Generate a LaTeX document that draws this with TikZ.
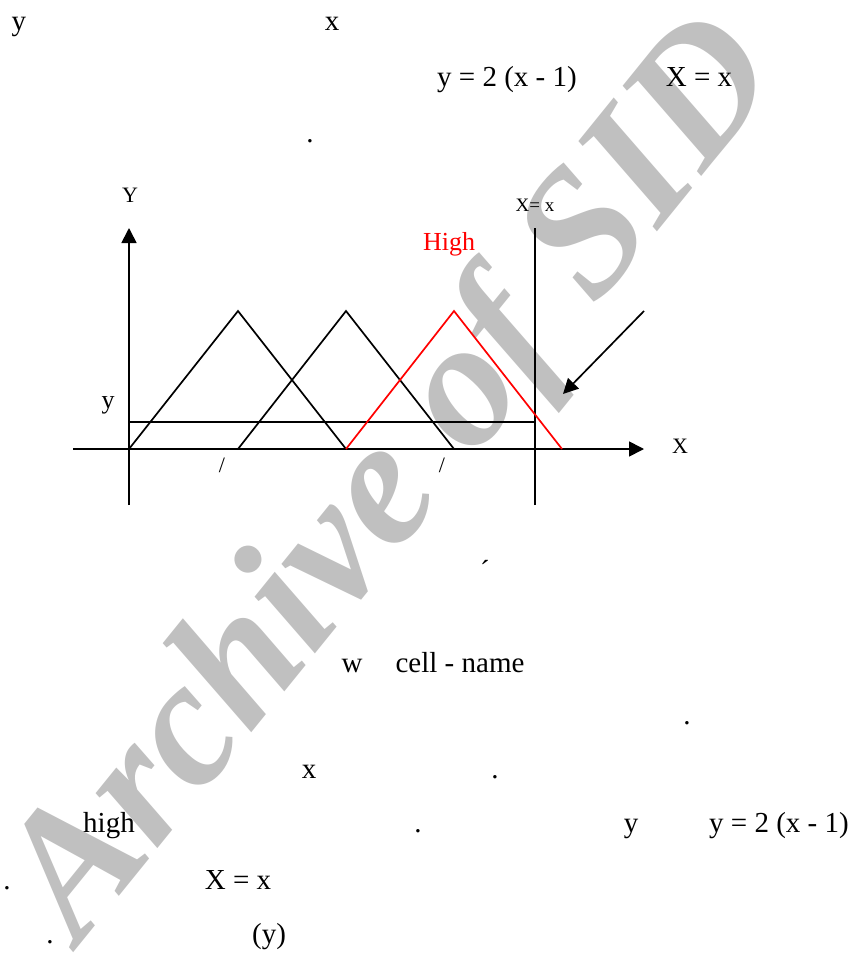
\documentclass[tikz,border=0pt]{standalone}
\usepackage{fontspec}
\setmainfont{Liberation Serif}
\usetikzlibrary{arrows.meta}
\definecolor{wm}{RGB}{192,192,192}
\definecolor{hired}{RGB}{255,0,0}
\begin{document}
\begin{tikzpicture}[x=1pt,y=-1pt,
  body/.style={font=\fontsize{29}{29}\selectfont, anchor=base, inner sep=0pt},
  lab/.style={font=\fontsize{22}{22}\selectfont, anchor=base, inner sep=0pt},
  ln/.style={line width=1.7pt},
  tip/.style={-{Triangle[length=15pt,width=15pt]}},
]
\useasboundingbox (0,0) rectangle (857,960);
% watermark
\node[font=\fontsize{180}{180}\selectfont\bfseries\itshape, text=wm, rotate=51, inner sep=0pt] (wmk) at (398,482) {Archive of SID};

% top text
\node[body] (t1) at (19,31) {y};
\node[body] (t2) at (332,31) {x};
\node[body] (t3) at (507,87) {y = 2 (x - 1)};
\node[body] (t4) at (699,87) {X = x};
\node[body] (t5) at (310,143) {.};

% diagram coordinates
\coordinate (Ybot) at (129,505);
\coordinate (Ytop) at (129,228);
\coordinate (Xl) at (73,449);
\coordinate (Xr) at (644,449);
\coordinate (Vt) at (535,228);
\coordinate (Vb) at (535,505);
\coordinate (Hl) at (129,422);
\coordinate (Hr) at (535,422);
\coordinate (a1) at (129,449);
\coordinate (p1) at (238,311);
\coordinate (b1) at (346,449);
\coordinate (a2) at (238,449);
\coordinate (p2) at (346,311);
\coordinate (b2) at (454,449);
\coordinate (p3) at (454,311);
\coordinate (b3) at (562,449);
\coordinate (As) at (644,311);
\coordinate (Ae) at (563,394);

\draw[ln,tip] (Ybot) -- (Ytop);
\draw[ln,tip] (Xl) -- (Xr);
\draw[ln] (Vb) -- (Vt);
\draw[ln] (Hl) -- (Hr);
\draw[ln] (a1) -- (p1) -- (b1);
\draw[ln] (a2) -- (p2) -- (b2);
\draw[ln,hired] (b1) -- (p3) -- (b3);
\draw[ln,tip] (As) -- (Ae);

\node[lab] (Ylab) at (130,202) {Y};
\node[font=\fontsize{19}{19}\selectfont, anchor=base, inner sep=0pt] (Vlab) at (535,211) {X= x};
\node[font=\fontsize{26}{26}\selectfont, text=hired, anchor=base, inner sep=0pt] (high) at (449,250) {High};
\node[font=\fontsize{26}{26}\selectfont, anchor=base, inner sep=0pt] (ylab) at (108,408) {y};
\node[lab] (Xlab) at (680,453) {X};
\node[lab] (s1) at (222,472) {/};
\node[lab] (s2) at (442,472) {/};

% lower text
\node[body, anchor=center] (acc) at (485,570) {´};
\node[body] (w) at (352,672) {w};
\node[body] (cn) at (460,672) {cell - name};
\node[body] (d1) at (687,724) {.};
\node[body] (x1) at (309,778) {x};
\node[body] (d2) at (495,778) {.};
\node[body] (hg) at (109,832) {high};
\node[body] (d3) at (418,832) {.};
\node[body] (y2) at (631,832) {y};
\node[body] (eq2) at (779,832) {y = 2 (x - 1)};
\node[body] (d4) at (7,889) {.};
\node[body] (xx) at (238,889) {X = x};
\node[body] (d5) at (50,943) {.};
\node[body] (py) at (269,943) {(y)};
\end{tikzpicture}
\end{document}
